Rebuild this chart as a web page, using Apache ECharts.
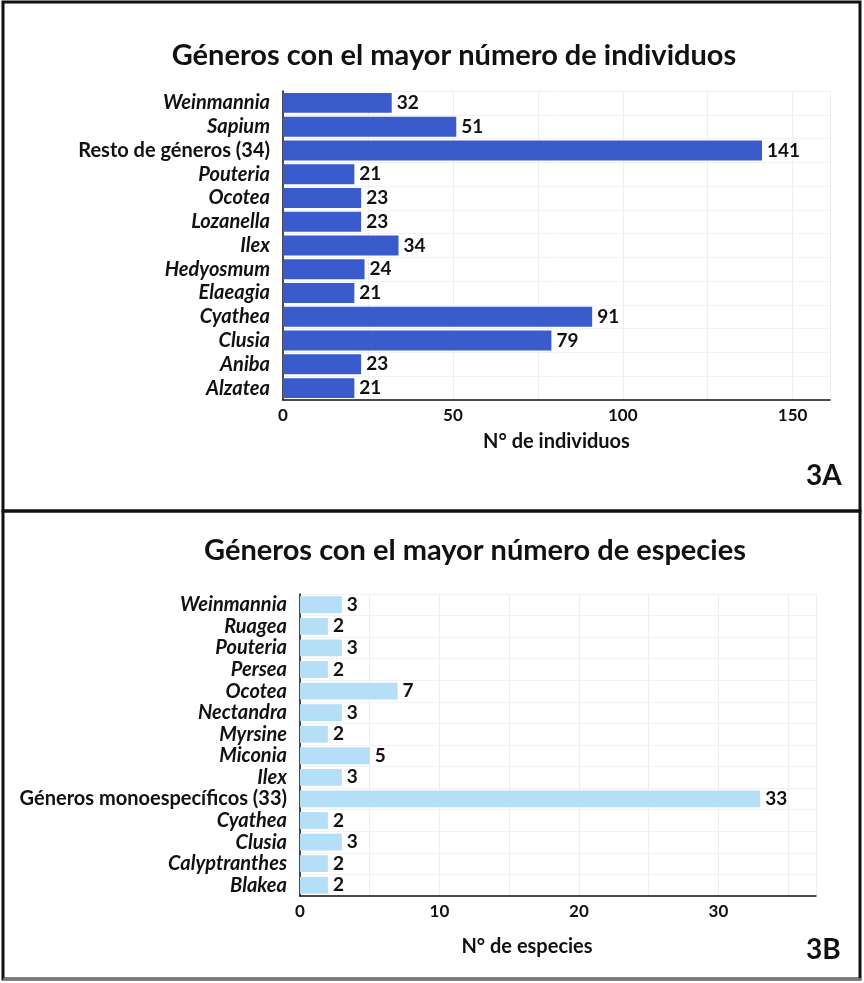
<!DOCTYPE html>
<html>
<head>
<meta charset="utf-8">
<script src="https://cdn.jsdelivr.net/npm/echarts@6/dist/echarts.min.js"></script>
<style>
  html, body { margin: 0; padding: 0; background: #fff; }
  #main { width: 864px; height: 983px; }
</style>
</head>
<body>
<div id="main"></div>
<script>
// 3A: géneros con más individuos (de arriba hacia abajo)
var generosA = ['Weinmannia', 'Sapium', 'Resto de géneros (34)', 'Pouteria', 'Ocotea', 'Lozanella',
  'Ilex', 'Hedyosmum', 'Elaeagia', 'Cyathea', 'Clusia', 'Aniba', 'Alzatea'];
var individuos = [32, 51, 141, 21, 23, 23, 34, 24, 21, 91, 79, 23, 21];
var ticksA = [0, 50, 100, 150];

// 3B: géneros con más especies
var generosB = ['Weinmannia', 'Ruagea', 'Pouteria', 'Persea', 'Ocotea', 'Nectandra', 'Myrsine',
  'Miconia', 'Ilex', 'Géneros monoespecíficos (33)', 'Cyathea', 'Clusia', 'Calyptranthes', 'Blakea'];
var especies = [3, 2, 3, 2, 7, 3, 2, 5, 3, 33, 2, 3, 2, 2];
var ticksB = [0, 10, 20, 30];

var FONT = 'Lato';

// los grupos "resto" van sin cursiva
function catLabel(v){
  if (v.indexOf('(') >= 0) return '{n|' + v + '}';
  return v;
}
function tickLabel(list){
  return function(v){ return list.indexOf(v) >= 0 ? v : ''; };
}

function xAxisOpt(idx, max, interval, name, list, nameGap, pad){
  return {
    type: 'value', gridIndex: idx, min: 0, max: max, interval: interval,
    name: name, nameLocation: 'middle', nameGap: nameGap,
    nameTextStyle: { fontFamily: FONT, fontWeight: 'bold', fontSize: 20, color: '#111', padding: pad },
    axisLine: { show: true, lineStyle: { color: '#111', width: 1.5 } },
    axisTick: { show: false },
    axisLabel: { formatter: tickLabel(list), showMaxLabel: false, margin: 7,
      fontFamily: FONT, fontWeight: 'bold', fontSize: 17, color: '#111' },
    splitLine: { show: true, lineStyle: { color: '#eeeeee' } },
    minorTick: { show: false, splitNumber: 2 },
    minorSplitLine: { show: true, lineStyle: { color: '#eeeeee' } }
  };
}
function yAxisOpt(idx, cats){
  return {
    type: 'category', gridIndex: idx, data: cats, inverse: true,
    axisLine: { show: true, lineStyle: { color: '#111', width: 1.5 } },
    axisTick: { show: false },
    splitLine: { show: true, lineStyle: { color: '#f2f2f2' } },
    axisLabel: {
      interval: 0, margin: 13, formatter: catLabel,
      fontFamily: FONT, fontWeight: 'bold', fontStyle: 'italic', fontSize: 20, color: '#111',
      rich: { n: { fontFamily: FONT, fontWeight: 'bold', fontStyle: 'normal', fontSize: 20, color: '#111' } }
    }
  };
}
function serie(idx, data, color, gap){
  return {
    type: 'bar', xAxisIndex: idx, yAxisIndex: idx, data: data,
    barCategoryGap: gap,
    itemStyle: { color: color },
    label: { show: true, position: 'right', distance: 5,
      fontFamily: FONT, fontWeight: 'bold', fontSize: 19, color: '#111' }
  };
}

var chart = echarts.init(document.getElementById('main'));
chart.setOption({
  backgroundColor: '#ffffff',
  animation: false,
  title: [
    { text: 'Géneros con el mayor número de individuos', left: 449, top: 36, textAlign: 'center',
      textStyle: { fontFamily: FONT, fontWeight: 'bold', fontSize: 29, color: '#111' } },
    { text: 'Géneros con el mayor número de especies', left: 470, top: 531, textAlign: 'center',
      textStyle: { fontFamily: FONT, fontWeight: 'bold', fontSize: 29, color: '#111' } }
  ],
  grid: [
    { left: 283, top: 91, width: 547, height: 309 },
    { left: 300, top: 594, width: 516, height: 302 }
  ],
  xAxis: [
    xAxisOpt(0, 161, 50, 'N° de individuos', ticksA, 32, [0, 0, 0, 0]),
    xAxisOpt(1, 37, 10, 'N° de especies', ticksB, 41, [0, 62, 0, 0])
  ],
  yAxis: [yAxisOpt(0, generosA), yAxisOpt(1, generosB)],
  series: [
    serie(0, individuos, '#3a5bcb', '16%'),
    serie(1, especies, '#b4dff7', '22%')
  ],
  graphic: [
    { type: 'rect', shape: { x: 3, y: 2, width: 857, height: 509 },
      style: { fill: null, stroke: '#111', lineWidth: 3 } },
    { type: 'rect', shape: { x: 3, y: 511, width: 857, height: 468 },
      style: { fill: null, stroke: '#111', lineWidth: 3 } },
    { type: 'line', shape: { x1: 3, y1: 979, x2: 861, y2: 979 },
      style: { stroke: '#777', lineWidth: 2 } },
    { type: 'text', left: 806, top: 462,
      style: { text: '3A', fontFamily: FONT, fontWeight: 'bold', fontSize: 28, fill: '#111' } },
    { type: 'text', left: 806, top: 936,
      style: { text: '3B', fontFamily: FONT, fontWeight: 'bold', fontSize: 28, fill: '#111' } }
  ]
});
</script>
</body>
</html>
